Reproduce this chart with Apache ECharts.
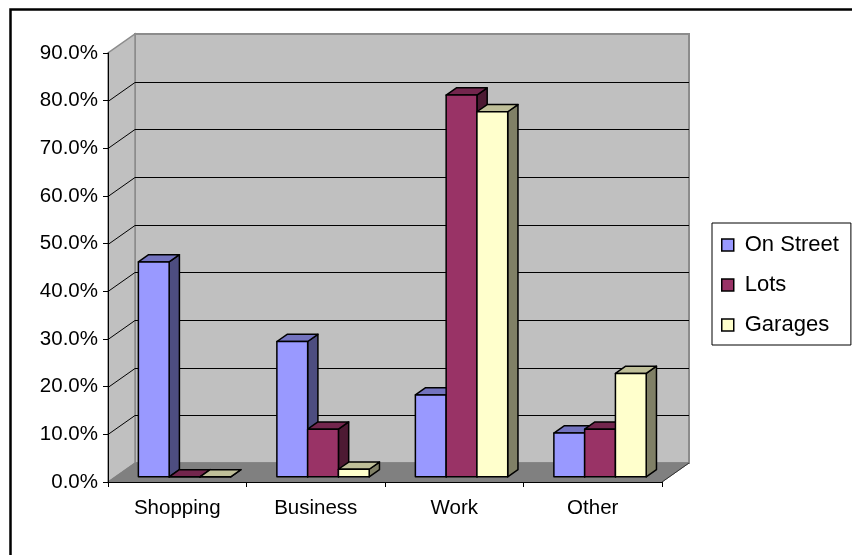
<!DOCTYPE html>
<html>
<head>
<meta charset="utf-8">
<script src="https://cdn.jsdelivr.net/npm/echarts@6/dist/echarts.min.js"></script>
<style>
  html, body { margin: 0; padding: 0; background: #fff; }
  #chart { width: 852px; height: 555px; }
</style>
</head>
<body>
<div id="chart"></div>
<script>
// Parking share by trip purpose (percent)
const categories = ['Shopping', 'Business', 'Work', 'Other'];
const seriesNames = ['On Street', 'Lots', 'Garages'];
const onStreet = [45.1, 28.4, 17.2, 9.2];
const lots = [0.0, 10.0, 80.1, 10.0];
const garages = [0.0, 1.6, 76.6, 21.7];
const yTicks = [0, 10, 20, 30, 40, 50, 60, 70, 80, 90];

const FONT = '"Liberation Sans", Arial, Helvetica, sans-serif';

// Oblique projection of the plot box: offset of the back wall from the front plane
const WALL_DX = 27, WALL_DY = 19;
// Bars occupy this slice of the box depth (0 = front, 1 = back wall)
const BAR_FRONT = 0.27, BAR_BACK = 0.65;

const palettes = [
  { front: '#9999FF', top: '#7373BF', side: '#4D4D80' },
  { front: '#993366', top: '#73264D', side: '#4D1A33' },
  { front: '#FFFFCC', top: '#BFBF99', side: '#808066' }
];
const seriesValues = [onStreet, lots, garages];

// Back wall, side wall and floor of the 3D box, sized from the grid rectangle
function renderWalls(params, api) {
  const cs = params.coordSys;
  const x0 = cs.x, x1 = cs.x + cs.width, yT = cs.y, yB = cs.y + cs.height;
  const dx = WALL_DX, dy = WALL_DY;
  return {
    type: 'group',
    children: [
      { type: 'polygon',
        shape: { points: [[x0 + dx, yT - dy], [x1 + dx, yT - dy], [x1 + dx, yB - dy], [x0 + dx, yB - dy]] },
        style: { fill: '#C0C0C0', stroke: '#8C8C8C', lineWidth: 2 } },
      { type: 'polygon',
        shape: { points: [[x0, yB], [x0, yT], [x0 + dx, yT - dy], [x0 + dx, yB - dy]] },
        style: { fill: '#C0C0C0', stroke: '#8C8C8C', lineWidth: 1.5 } },
      { type: 'polygon',
        shape: { points: [[x0, yB], [x1, yB], [x1 + dx, yB - dy], [x0 + dx, yB - dy]] },
        style: { fill: '#808080', stroke: '#808080', lineWidth: 1 } },
      { type: 'line',
        shape: { x1: x1, y1: yB, x2: x1 + dx, y2: yB - dy },
        style: { stroke: '#333', lineWidth: 1 } }
    ]
  };
}

// Horizontal gridlines on the back wall plus their diagonal runs across the side wall
function renderGridLine(params, api) {
  const cs = params.coordSys;
  const y = Math.round(api.coord([0, api.value(1)])[1]) + 0.5;
  const x0 = cs.x, x1 = cs.x + cs.width;
  const st = { stroke: '#000', lineWidth: 1 };
  return {
    type: 'group',
    children: [
      { type: 'line', shape: { x1: x0, y1: y, x2: x0 + WALL_DX, y2: y - WALL_DY }, style: st },
      { type: 'line', shape: { x1: x0 + WALL_DX, y1: y - WALL_DY, x2: x1 + WALL_DX, y2: y - WALL_DY }, style: st }
    ]
  };
}

// 3D column: front face, top face and right side face
function makeBarRenderer(s) {
  return function (params, api) {
    const idx = api.value(0), val = api.value(1);
    const base = api.coord([idx, 0]);
    const top = api.coord([idx, val]);
    const cw = api.size([1, 0])[0];
    const bw = cw / 4.5;
    const fx = BAR_FRONT * WALL_DX, fy = BAR_FRONT * WALL_DY;
    const ddx = (BAR_BACK - BAR_FRONT) * WALL_DX, ddy = (BAR_BACK - BAR_FRONT) * WALL_DY;
    const xL = base[0] - 1.5 * bw + s * bw + fx, xR = xL + bw;
    const yB = base[1] - fy, yT = top[1] - fy;
    const pal = palettes[s];
    const edge = { stroke: '#000', lineWidth: 1.5, lineJoin: 'round' };
    return {
      type: 'group',
      children: [
        { type: 'polygon',
          shape: { points: [[xR, yT], [xR + ddx, yT - ddy], [xR + ddx, yB - ddy], [xR, yB]] },
          style: Object.assign({ fill: pal.side }, edge) },
        { type: 'polygon',
          shape: { points: [[xL, yT], [xR, yT], [xR + ddx, yT - ddy], [xL + ddx, yT - ddy]] },
          style: Object.assign({ fill: pal.top }, edge) },
        { type: 'rect',
          shape: { x: xL, y: yT, width: bw, height: yB - yT },
          style: Object.assign({ fill: pal.front }, edge) }
      ]
    };
  };
}

const chart = echarts.init(document.getElementById('chart'), null, { renderer: 'canvas' });

const series = [
  { type: 'custom', name: '__walls', silent: true, z: 1, clip: false,
    renderItem: renderWalls, data: [[0, 0]], encode: { x: 0, y: 1 } },
  { type: 'custom', name: '__grid', silent: true, z: 2, clip: false,
    renderItem: renderGridLine,
    data: yTicks.filter(v => v > 0 && v < yTicks[yTicks.length - 1]).map(v => [0, v]),
    encode: { x: 0, y: 1 } }
];
seriesNames.forEach((name, s) => {
  series.push({
    type: 'custom', name: name, z: 3, clip: false,
    itemStyle: { color: palettes[s].front },
    renderItem: makeBarRenderer(s),
    data: seriesValues[s].map((v, i) => [i, v]),
    encode: { x: 0, y: 1 }
  });
});

chart.setOption({
  animation: false,
  backgroundColor: '#fff',
  graphic: [{
    type: 'rect', z: 100, silent: true,
    shape: { x: 10.5, y: 9.5, width: 900, height: 600 },
    style: { fill: 'none', stroke: '#000', lineWidth: 2.5 }
  }],
  grid: { left: 108, top: 53, width: 554, height: 429 },
  xAxis: {
    type: 'category', data: categories, z: 10,
    axisLine: { show: true, lineStyle: { color: '#000', width: 1 } },
    axisTick: { show: true, length: 5, lineStyle: { color: '#000' } },
    axisLabel: { color: '#000', fontFamily: FONT, fontSize: 20.5, margin: 16 },
    splitLine: { show: false }
  },
  yAxis: {
    type: 'value', min: 0, max: 90, interval: 10, z: 10,
    axisLine: { show: true, lineStyle: { color: '#000', width: 1 } },
    axisTick: { show: true, length: 5, lineStyle: { color: '#000' } },
    axisLabel: { color: '#000', fontFamily: FONT, fontSize: 20.5, margin: 10,
      formatter: v => v.toFixed(1) + '%' },
    splitLine: { show: false }
  },
  legend: {
    orient: 'vertical', left: 712, top: 223,
    padding: [11, 12, 9, 9], itemGap: 18, itemWidth: 12, itemHeight: 12,
    borderColor: '#000', borderWidth: 1, backgroundColor: '#fff',
    icon: 'rect',
    itemStyle: { borderColor: '#000', borderWidth: 1.5 },
    textStyle: { color: '#000', fontFamily: FONT, fontSize: 22, padding: [0, 0, 0, 6] },
    data: seriesNames
  },
  series: series
});
</script>
</body>
</html>
